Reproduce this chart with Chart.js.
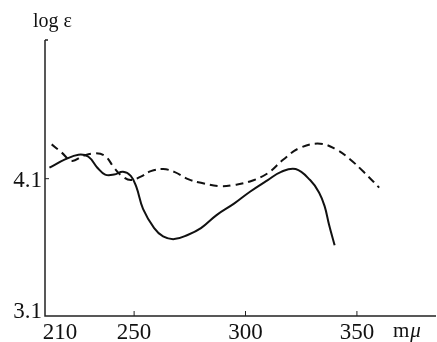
<!DOCTYPE html>
<html>
<head>
<meta charset="utf-8">
<script src="https://cdn.jsdelivr.net/npm/chart.js@4"></script>
<style>
  html, body { margin: 0; padding: 0; background: #fff; }
  #wrap { width: 437px; height: 342px; }
</style>
</head>
<body>
<div id="wrap"><canvas id="grafico"></canvas></div>
<script>
const solidoX = [212, 219, 225, 229.5, 233.5, 237, 241, 245, 248.5, 251, 254, 259, 263, 268, 274, 280, 287, 295, 302, 310, 316, 322.5, 329, 333, 335.5, 337.5, 340]
const solidoY = [4.18, 4.24, 4.275, 4.26, 4.18, 4.13, 4.13, 4.15, 4.12, 4.04, 3.88, 3.74, 3.68, 3.66, 3.69, 3.74, 3.835, 3.92, 4.005, 4.09, 4.15, 4.17, 4.09, 4.0, 3.9, 3.765, 3.615]

const trazosX = [213, 217.5, 222, 227, 232.5, 237, 241, 244.5, 248.5, 253, 257.5, 263, 268, 274.5, 280, 289, 295, 302, 310, 317, 324.5, 333.5, 341, 347, 353, 360]
const trazosY = [4.35, 4.29, 4.23, 4.265, 4.285, 4.265, 4.18, 4.12, 4.09, 4.115, 4.155, 4.17, 4.15, 4.095, 4.07, 4.045, 4.055, 4.08, 4.14, 4.24, 4.325, 4.355, 4.31, 4.24, 4.15, 4.035]

const ticksX = [210, 250, 300, 350]
const ticksY = [3.1, 4.1]
const tituloY = 'log \u03b5'

const fuente = '"Liberation Serif", "DejaVu Serif", serif'

function puntos(xs, ys) {
    return xs.map((x, i) => ({ x: x, y: ys[i] }))
}

// dibuja ejes, marcas y textos con las escalas del grafico
const ejes = {
    id: 'ejes',
    afterDraw(chart) {
        const ctx = chart.ctx
        const sx = chart.scales.x
        const sy = chart.scales.y
        const area = chart.chartArea
        const x0 = sx.getPixelForValue(210)
        const y0 = sy.getPixelForValue(3.1)

        ctx.save()
        ctx.strokeStyle = '#222'
        ctx.lineWidth = 1.5
        ctx.beginPath()
        ctx.moveTo(x0, area.top)
        ctx.lineTo(x0, y0)
        ctx.lineTo(area.right, y0)
        ctx.moveTo(x0, area.top)
        ctx.lineTo(x0 + 3, area.top)
        ctx.stroke()

        ctx.lineWidth = 1
        ctx.beginPath()
        ticksX.slice(1).forEach(v => {
            const px = sx.getPixelForValue(v)
            ctx.moveTo(px, y0)
            ctx.lineTo(px, y0 - 5)
        })
        const py41 = sy.getPixelForValue(ticksY[1])
        ctx.moveTo(x0, py41)
        ctx.lineTo(x0 + 4, py41)
        ctx.stroke()

        ctx.fillStyle = '#111'
        ctx.font = '23px ' + fuente
        ctx.textBaseline = 'alphabetic'
        ticksX.forEach(v => {
            let px = sx.getPixelForValue(v)
            if (v === 210) px += 15
            ctx.textAlign = 'center'
            ctx.fillText(String(v), px, 339)
        })
        // unidad: m recta, mu cursiva
        const ux = sx.getPixelForValue(350) + 36
        ctx.textAlign = 'left'
        ctx.font = '21px ' + fuente
        ctx.fillText('m', ux, 337)
        const wm = ctx.measureText('m').width
        ctx.font = 'italic 21px ' + fuente
        ctx.fillText('\u03bc', ux + wm + 1, 337)

        ctx.font = '23px ' + fuente
        ctx.textAlign = 'right'
        ctx.fillText(String(ticksY[1]), x0 - 3, py41 + 8)
        ctx.fillText(String(ticksY[0]), x0 - 3, y0 + 2)

        ctx.font = '20px ' + fuente
        ctx.textAlign = 'left'
        ctx.fillText(tituloY, 33, 27)
        ctx.restore()
    }
}

const ctx = document.getElementById('grafico').getContext('2d')

const data = {
    datasets: [
        {
            label: 'solido',
            data: puntos(solidoX, solidoY),
            borderColor: '#111',
            borderWidth: 2,
            pointRadius: 0,
            tension: 0.4,
            fill: false
        },
        {
            label: 'trazos',
            data: puntos(trazosX, trazosY),
            borderColor: '#111',
            borderWidth: 2,
            borderDash: [8, 5],
            pointRadius: 0,
            tension: 0.4,
            fill: false
        }
    ]
}

const options = {
    responsive: true,
    maintainAspectRatio: false,
    animation: false,
    layout: { padding: { left: 45, top: 40, right: 1, bottom: 26 } },
    scales: {
        x: { type: 'linear', min: 210, max: 385.5, display: false },
        y: { type: 'linear', min: 3.1, max: 5.11, display: false }
    },
    plugins: {
        legend: { display: false },
        tooltip: { enabled: false }
    }
}

new Chart(ctx, { type: 'line', data, options, plugins: [ejes] })
</script>
</body>
</html>
